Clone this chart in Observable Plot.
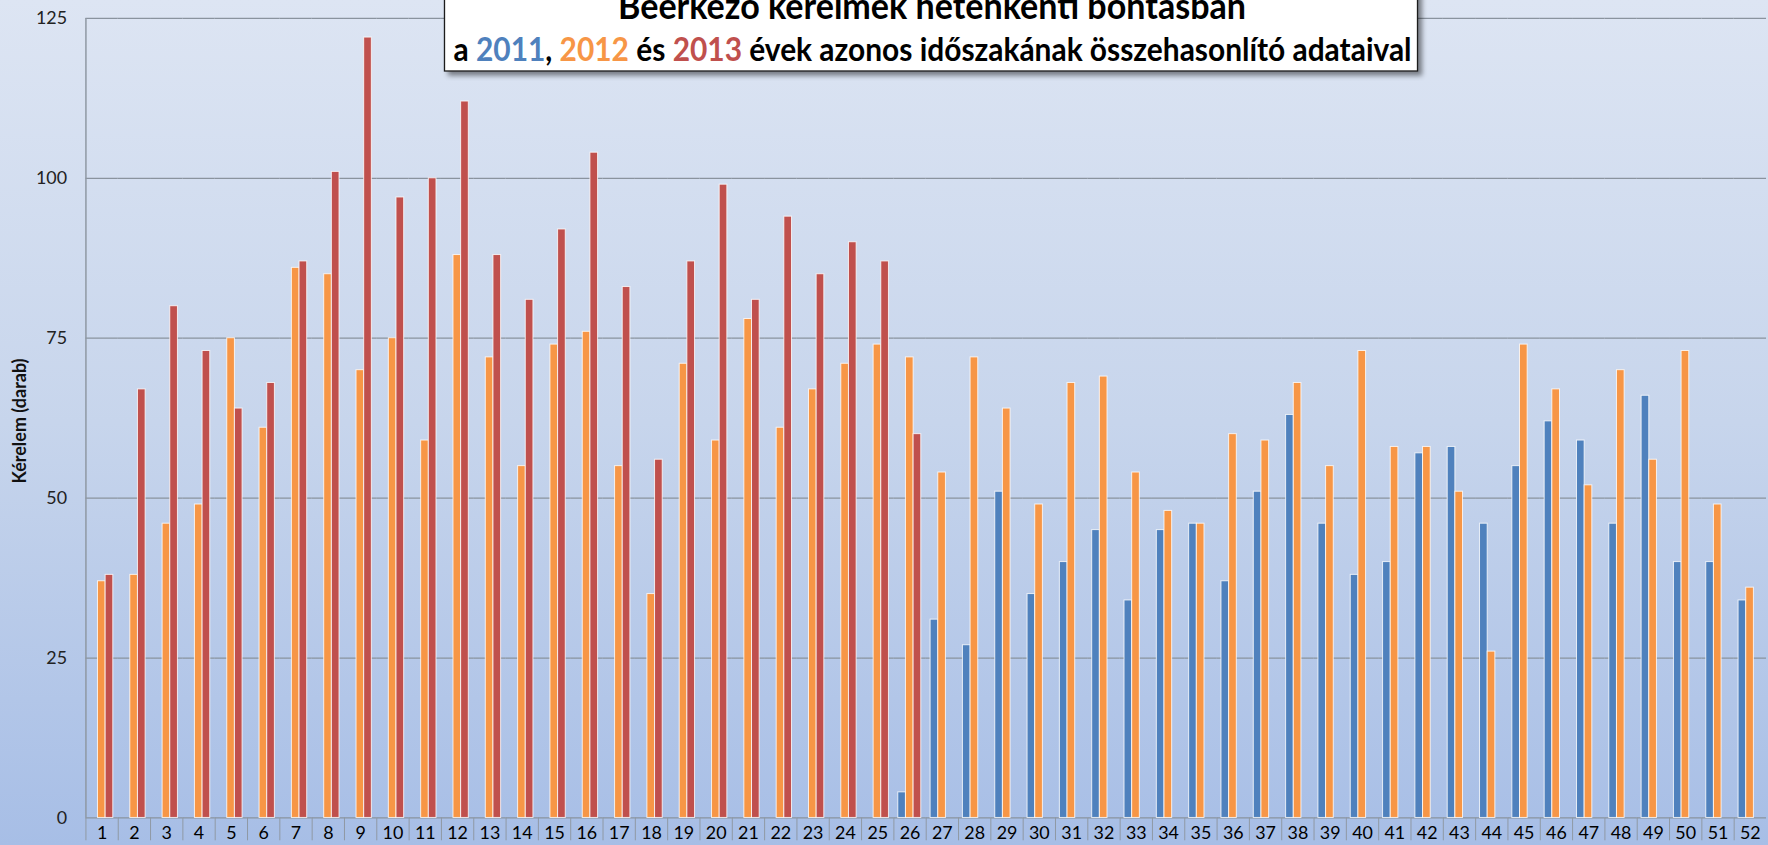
<!DOCTYPE html>
<html>
<head>
<meta charset="utf-8">
<script src="https://cdn.jsdelivr.net/npm/d3@7"></script>
<script src="https://cdn.jsdelivr.net/npm/@observablehq/plot@0.6"></script>
<style>
html, body { margin: 0; padding: 0; width: 1768px; height: 845px; overflow: hidden; }
body {
  position: relative;
  background: linear-gradient(to bottom, #dde5f3 0%, #c7d5ec 50%, #a7bee6 100%);
  font-family: Lato, "Noto Sans", sans-serif;
}
#chart { position: absolute; left: 0; top: 0; }
#title { position: absolute; left: 0; top: 0; }
#ylabel {
  position: absolute; left: 19px; top: 421px;
  transform: translate(-50%, -50%) rotate(-90deg);
  font-weight: bold; font-size: 18px; white-space: nowrap; color: #111;
}
</style>
</head>
<body>
<div id="chart"></div>
<div id="ylabel">Kérelem (darab)</div>
<svg id="title" width="1768" height="110">
  <defs>
    <filter id="sh" x="-5%" y="-50%" width="110%" height="200%">
      <feDropShadow dx="4" dy="4" stdDeviation="2.5" flood-color="#000" flood-opacity="0.45"/>
    </filter>
  </defs>
  <rect x="444.5" y="-10" width="973" height="81" fill="#fff" stroke="#1a1a1a" stroke-width="1.3" filter="url(#sh)"/>
  <text x="932" y="19" text-anchor="middle" font-weight="bold" font-size="36" fill="#000"
        textLength="628" lengthAdjust="spacingAndGlyphs">Beérkező kérelmek hetenkénti bontásban</text>
  <text x="932.5" y="61" text-anchor="middle" font-weight="bold" font-size="32" fill="#000"
        textLength="958" lengthAdjust="spacingAndGlyphs">a <tspan fill="#4f81bd">2011</tspan>, <tspan fill="#f79646">2012</tspan> és <tspan fill="#c0504d">2013</tspan> évek azonos időszakának összehasonlító adataival</text>
</svg>
<script>
// ---- data ----
const weeks = [1,2,3,4,5,6,7,8,9,10,11,12,13,14,15,16,17,18,19,20,21,22,23,24,25,26,
               27,28,29,30,31,32,33,34,35,36,37,38,39,40,41,42,43,44,45,46,47,48,49,50,51,52];
const years = ["2011", "2012", "2013"];
const yearColors = ["#4f81bd", "#f79646", "#c0504d"];
const yTicks = [0, 25, 50, 75, 100, 125];

const v2011 = [null,null,null,null,null,null,null,null,null,null,null,null,null,
               null,null,null,null,null,null,null,null,null,null,null,null,
               4,31,27,51,35,40,45,34,45,46,37,51,63,46,38,40,57,58,46,55,62,59,46,66,40,40,34];
const v2012 = [37,38,46,49,75,61,86,85,70,75,59,88,72,55,74,76,55,35,71,59,78,61,67,71,74,
               72,54,72,64,49,68,69,54,48,46,60,59,68,55,73,58,58,51,26,74,67,52,70,56,73,49,36];
const v2013 = [38,67,80,73,64,68,87,101,122,97,100,112,88,81,92,104,83,56,87,99,81,94,85,90,87,
               60,null,null,null,null,null,null,null,null,null,null,null,null,null,
               null,null,null,null,null,null,null,null,null,null,null,null,null];

// ---- table ----
const series = [v2011, v2012, v2013];
const rows = [];
weeks.forEach((w, i) => {
  years.forEach((y, j) => {
    const v = series[j][i];
    if (v != null) rows.push({week: w, year: y, value: v});
  });
});

const W = 1780, ML = 86, MR = 2;
const step = (W - ML - MR) / weeks.length;

const chart = Plot.plot({
  width: W,
  height: 845,
  marginLeft: ML,
  marginRight: MR,
  marginTop: 18,
  marginBottom: 22,
  style: {background: "transparent", fontFamily: "Lato, 'Noto Sans', sans-serif", overflow: "visible"},
  fx: {domain: weeks, padding: 0, round: false, label: null},
  x: {domain: years, paddingInner: 0, paddingOuter: 0.61, align: 0.47, round: false, axis: null},
  y: {domain: [0, 125], label: null},
  color: {domain: years, range: yearColors},
  marks: [
    Plot.gridY(yTicks, {stroke: "#8a939e", strokeOpacity: 1, strokeWidth: 1.3}),
    Plot.ruleX([1], {fx: d => d, x: null, dx: -step / 2, stroke: "#8f98a3", strokeWidth: 1.5}),
    Plot.axisY(yTicks, {tickSize: 0, tickPadding: 19, fontSize: 18, fill: "#222", label: null}),
    Plot.barY(rows, {fx: "week", x: "year", y: "value", fill: "year",
                     stroke: "#ffffff", strokeOpacity: 0.8, strokeWidth: 1}),
    Plot.axisFx({anchor: "bottom", tickSize: 23, tickFormat: () => "", dx: -step / 2, stroke: "#8f98a3", label: null}),
    Plot.axisFx({anchor: "bottom", tickSize: 0, tickPadding: 8, fontSize: 18, fill: "#000", label: null})
  ]
});
document.getElementById("chart").appendChild(chart);
</script>
</body>
</html>
